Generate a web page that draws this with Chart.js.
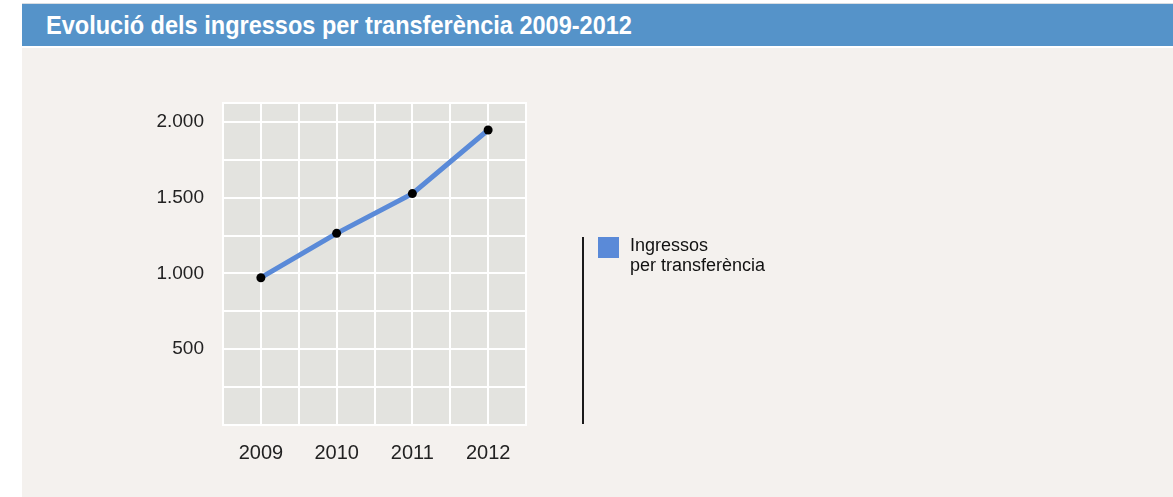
<!DOCTYPE html>
<html>
<head>
<meta charset="utf-8">
<script src="https://cdn.jsdelivr.net/npm/chart.js@4"></script>
<style>
  html, body { margin: 0; padding: 0; background: #ffffff; }
  #page { position: relative; width: 1173px; height: 497px; overflow: hidden; }
  #topline { position: absolute; left: 22px; top: 3px; width: 1151px; height: 1px; background: #d8dde2; }
  #title {
    position: absolute; left: 22px; top: 4px; width: 1151px; height: 42px;
    background: #5593c9;
  }
  #title span {
    position: absolute; left: 24px; top: 0; color: #ffffff;
    font-family: "Liberation Sans", Arial, sans-serif;
    font-weight: bold; font-size: 26px; line-height: 42px;
    transform: scaleX(0.905); transform-origin: left center; white-space: nowrap;
  }
  #panel { position: absolute; left: 22px; top: 48px; width: 1151px; height: 449px; background: #f4f1ee; }
  #chartBox { position: absolute; left: 0; top: 0; width: 1173px; height: 497px; }
  #legend {
    position: absolute; left: 582px; top: 237px; height: 187px;
    border-left: 2px solid #1a1a1a; padding-left: 14px;
    font-family: "Liberation Sans", Arial, sans-serif; font-size: 18px; line-height: 20px; color: #111;
  }
  .item { display: flex; align-items: flex-start; }
  .swatch { width: 21px; height: 21px; margin-right: 11px; flex: none; }
</style>
</head>
<body>
<div id="page">
  <div id="topline"></div>
  <div id="title"><span>Evolució dels ingressos per transferència 2009-2012</span></div>
  <div id="panel"></div>
  <div id="chartBox"><canvas id="chart" width="1173" height="497"></canvas></div>
  <div id="legend"></div>
</div>
<script>
const years = ['2009', '2010', '2011', '2012'];
const ingressos = [972, 1265, 1527, 1947];
const seriesLabel = 'Ingressos\nper transferència';
const yMax = 2125;
const yGridValues = [0, 250, 500, 750, 1000, 1250, 1500, 1750, 2000];
const yLabelValues = [500, 1000, 1500, 2000];

const lineBlue = '#5a8ad8';

const plotBg = {
  id: 'plotBg',
  beforeDraw(chart) {
    const a = chart.chartArea, ctx = chart.ctx;
    ctx.save();
    ctx.fillStyle = '#e3e3df';
    ctx.fillRect(a.left, a.top, a.right - a.left, a.bottom - a.top);
    ctx.strokeStyle = '#ffffff';
    ctx.lineWidth = 2;
    ctx.strokeRect(a.left, a.top, a.right - a.left, a.bottom - a.top);
    ctx.restore();
  }
};

const fmt = v => String(v).replace(/\B(?=(\d{3})+(?!\d))/g, '.');

new Chart(document.getElementById('chart'), {
  type: 'line',
  data: {
    labels: years,
    datasets: [{
      label: seriesLabel,
      data: ingressos,
      borderColor: lineBlue,
      borderWidth: 5,
      pointBackgroundColor: '#000000',
      pointBorderColor: '#000000',
      pointRadius: 4.5,
      pointBorderWidth: 0,
      tension: 0,
      xAxisID: 'x',
      yAxisID: 'y'
    }]
  },
  options: {
    responsive: false,
    animation: false,
    layout: { padding: { left: 100, top: 103, right: 647, bottom: 22 } },
    plugins: { legend: { display: false }, tooltip: { enabled: false } },
    scales: {
      x: {
        type: 'category',
        offset: true,
        grid: { color: '#ffffff', lineWidth: 2, offset: false, drawTicks: false },
        border: { display: false },
        ticks: {
          color: '#222222', padding: 16,
          font: { family: '"Liberation Sans", Arial, sans-serif', size: 20 }
        },
        afterFit(s) { s.height = 50; }
      },
      x2: {
        type: 'category',
        position: 'bottom',
        labels: years,
        offset: true,
        grid: { color: '#ffffff', lineWidth: 2, offset: true, drawTicks: false },
        border: { display: false },
        ticks: { display: false },
        afterFit(s) { s.height = 0; }
      },
      y: {
        min: 0,
        max: yMax,
        grid: { color: '#ffffff', lineWidth: 2, drawTicks: false },
        border: { display: false },
        ticks: {
          color: '#222222', padding: 19,
          font: { family: '"Liberation Sans", Arial, sans-serif', size: 19 },
          callback: v => yLabelValues.includes(v) ? fmt(v) : ''
        },
        afterBuildTicks(s) { s.ticks = yGridValues.map(v => ({ value: v })); },
        afterFit(s) { s.width = 123; }
      }
    }
  },
  plugins: [plotBg]
});

// HTML legend from the dataset label
const lg = document.getElementById('legend');
const item = document.createElement('div');
item.className = 'item';
const sw = document.createElement('span');
sw.className = 'swatch';
sw.style.background = lineBlue;
const txt = document.createElement('span');
txt.innerHTML = seriesLabel.split('\n').join('<br>');
txt.style.marginTop = '-2px';
item.appendChild(sw);
item.appendChild(txt);
lg.appendChild(item);
</script>
</body>
</html>
